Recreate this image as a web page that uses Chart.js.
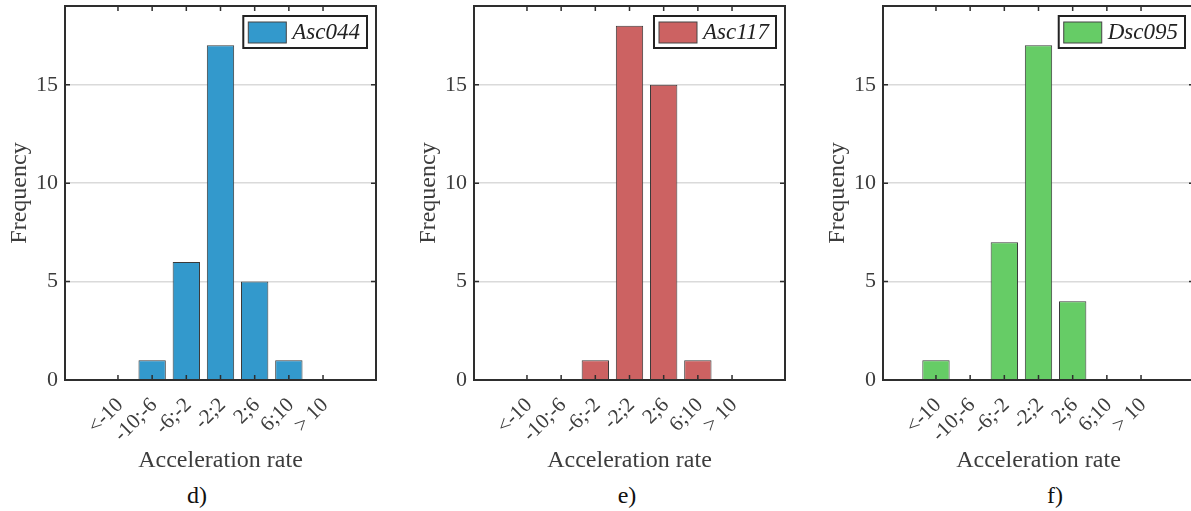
<!DOCTYPE html>
<html>
<head>
<meta charset="utf-8">
<script src="https://cdn.jsdelivr.net/npm/chart.js@4.4.1/dist/chart.umd.min.js"></script>
<style>
  body { margin: 0; background: #fff; width: 1191px; height: 511px; overflow: hidden; position: relative; }
  canvas { position: absolute; top: 0; }
  .cap { position: absolute; top: 482px; font: 24px "Liberation Serif", serif; color: #111; width: 60px; text-align: center; }
</style>
</head>
<body>
<canvas id="chart-d" width="395" height="475" style="left:0px"></canvas>
<canvas id="chart-e" width="395" height="475" style="left:409px"></canvas>
<canvas id="chart-f" width="395" height="475" style="left:818px"></canvas>
<div class="cap" style="left:167px">d)</div>
<div class="cap" style="left:597px">e)</div>
<div class="cap" style="left:1025px">f)</div>
<script>
// Data
const categories = ['<-10', '-10;-6', '-6;-2', '-2;2', '2;6', '6;10', '> 10'];
const asc044 = [0, 1, 6, 17, 5, 1, 0];
const asc117 = [0, 0, 1, 18, 15, 1, 0];
const dsc095 = [1, 0, 7, 17, 4, 0, 0];
const yTicks = [0, 5, 10, 15];
const yMax = 19;

const textColor = '#3c3c3c';
const serif = '"Liberation Serif", "Times New Roman", serif';

// box round the plot area + inward tick marks (matlab style)
const frame = {
    id: 'frame',
    afterDatasetsDraw(chart) {
        const { ctx, chartArea: a, scales: { x, y } } = chart;
        ctx.save();
        ctx.strokeStyle = '#2e2e2e';
        ctx.lineWidth = 1.5;
        ctx.beginPath();
        x.ticks.forEach(t => {
            const px = x.getPixelForValue(t.value);
            ctx.moveTo(px, a.bottom); ctx.lineTo(px, a.bottom - 5);
            ctx.moveTo(px, a.top); ctx.lineTo(px, a.top + 5);
        });
        y.ticks.forEach(t => {
            const py = y.getPixelForValue(t.value);
            ctx.moveTo(a.left, py); ctx.lineTo(a.left + 5, py);
            ctx.moveTo(a.right, py); ctx.lineTo(a.right - 5, py);
        });
        ctx.stroke();
        ctx.lineWidth = 2;
        ctx.strokeRect(a.left, a.top, a.right - a.left, a.bottom - a.top);
        ctx.restore();
    }
};

// legend box in the top right corner
const boxLegend = {
    id: 'boxLegend',
    afterDraw(chart) {
        const { ctx, chartArea: a } = chart;
        const ds = chart.data.datasets[0];
        ctx.save();
        ctx.font = 'italic 23px ' + serif;
        const tw = ctx.measureText(ds.label).width;
        const w = 5 + 38 + 6 + tw + 7;
        const h = 32;
        const left = a.right - 9 - w;
        const top = a.top + 10;
        ctx.fillStyle = '#fff';
        ctx.fillRect(left, top, w, h);
        ctx.strokeStyle = '#222';
        ctx.lineWidth = 2;
        ctx.strokeRect(left, top, w, h);
        ctx.fillStyle = ds.backgroundColor;
        ctx.fillRect(left + 5, top + 6, 38, 21);
        ctx.strokeStyle = '#444';
        ctx.lineWidth = 1;
        ctx.strokeRect(left + 5, top + 6, 38, 21);
        ctx.fillStyle = '#222';
        ctx.textBaseline = 'middle';
        ctx.fillText(ds.label, left + 49, top + h / 2 + 1);
        ctx.restore();
    }
};

function makeChart(id, name, values, color) {
    const ctx = document.getElementById(id).getContext('2d');
    return new Chart(ctx, {
        type: 'bar',
        data: {
            datasets: [{
                label: name,
                data: values.map((v, i) => ({ x: i + 1, y: v })),
                backgroundColor: color,
                borderColor: '#3a3a3a',
                borderWidth: 1,
                barPercentage: 0.8,
                categoryPercentage: 1.0
            }]
        },
        options: {
            responsive: false,
            animation: false,
            layout: { padding: { top: 6, right: 19, left: 0, bottom: 0 } },
            plugins: { legend: { display: false }, tooltip: { enabled: false } },
            scales: {
                x: {
                    type: 'linear',
                    min: 0.1,
                    max: 7.9,
                    afterBuildTicks: s => { s.ticks = categories.map((c, i) => ({ value: i + 1 })); },
                    afterFit: s => { s.height = 95; s.paddingLeft = 0; s.paddingRight = 0; },
                    ticks: {
                        callback: v => categories[v - 1] ?? '',
                        minRotation: 45,
                        maxRotation: 45,
                        autoSkip: false,
                        padding: 5,
                        labelOffset: 2,
                        color: textColor,
                        font: { family: serif, size: 21 }
                    },
                    grid: { display: false },
                    border: { display: false },
                    title: {
                        display: true,
                        text: 'Acceleration rate',
                        color: textColor,
                        font: { family: serif, size: 24 },
                        padding: { top: 0, bottom: 0 }
                    }
                },
                y: {
                    min: 0,
                    max: yMax,
                    afterBuildTicks: s => { s.ticks = yTicks.map(v => ({ value: v })); },
                    afterFit: s => { s.width = 65; s.paddingTop = 0; s.paddingBottom = 0; },
                    ticks: { padding: 7, color: textColor, font: { family: serif, size: 22 } },
                    grid: { color: '#dadada', lineWidth: 1.5, drawTicks: false },
                    border: { display: false },
                    title: {
                        display: true,
                        text: 'Frequency',
                        color: textColor,
                        font: { family: serif, size: 24 },
                        padding: { top: 5, bottom: 0 }
                    }
                }
            }
        },
        plugins: [frame, boxLegend]
    });
}

makeChart('chart-d', 'Asc044', asc044, '#3399cc');
makeChart('chart-e', 'Asc117', asc117, '#cc6262');
makeChart('chart-f', 'Dsc095', dsc095, '#66cc66');
</script>
</body>
</html>
